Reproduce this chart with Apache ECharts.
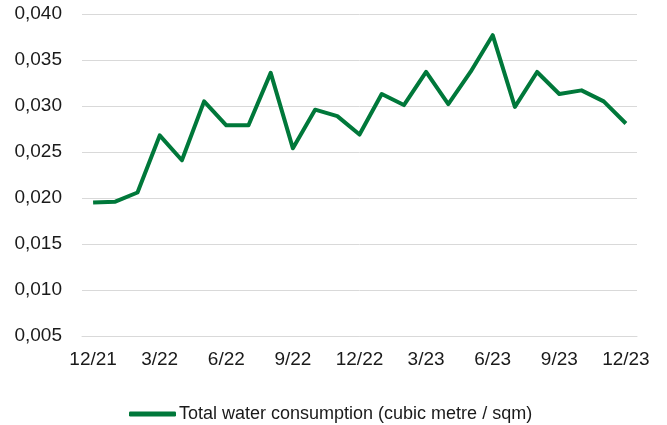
<!DOCTYPE html>
<html>
<head>
<meta charset="utf-8">
<script src="https://cdn.jsdelivr.net/npm/echarts@6/dist/echarts.min.js"></script>
<style>
  html, body { margin: 0; padding: 0; background: #fff; }
  #chart { width: 667px; height: 425px; }
</style>
</head>
<body>
<div id="chart"></div>
<script>
// months, 12/21 .. 12/23
const months = ['12/21', '1/22', '2/22', '3/22', '4/22', '5/22', '6/22', '7/22', '8/22', '9/22', '10/22', '11/22',
  '12/22', '1/23', '2/23', '3/23', '4/23', '5/23', '6/23', '7/23', '8/23', '9/23', '10/23', '11/23', '12/23'];

const waterPerSqm = [0.0195, 0.0196, 0.0206, 0.0268, 0.0241, 0.0305, 0.0279, 0.0279, 0.0336, 0.0254, 0.0296, 0.0289,
  0.0269, 0.0313, 0.0301, 0.0337, 0.0302, 0.0337, 0.0377, 0.0299, 0.0337, 0.0313, 0.0317, 0.0305, 0.0281];

const seriesName = 'Total water consumption (cubic metre / sqm)';

const chart = echarts.init(document.getElementById('chart'));

const font = 'Liberation Sans, Arial, sans-serif';

chart.setOption({
  animation: false,
  grid: { left: 82, right: 30, top: 14, bottom: 89 },
  legend: {
    top: 400,
    left: 124,
    icon: 'roundRect',
    itemWidth: 47,
    itemHeight: 5,
    textStyle: { fontFamily: font, fontSize: 18, color: '#1a1a1a', padding: [0, 0, 0, -2] },
    data: [seriesName]
  },
  xAxis: {
    type: 'category',
    data: months,
    boundaryGap: true,
    axisLine: { lineStyle: { color: '#d9d9d9', width: 1 } },
    axisTick: { show: false },
    axisLabel: {
      interval: 2,
      margin: 14,
      fontFamily: font,
      fontSize: 19,
      color: '#1a1a1a'
    }
  },
  yAxis: {
    type: 'value',
    min: 0.005,
    max: 0.040,
    interval: 0.005,
    axisLine: { show: false },
    axisTick: { show: false },
    splitLine: { lineStyle: { color: '#d9d9d9', width: 1 } },
    axisLabel: {
      margin: 20,
      fontFamily: font,
      fontSize: 19,
      color: '#1a1a1a',
      formatter: (v) => v.toFixed(3).replace('.', ',')
    }
  },
  series: [{
    name: seriesName,
    type: 'line',
    data: waterPerSqm,
    symbol: 'none',
    lineStyle: { color: '#00783a', width: 4, join: 'round' },
    itemStyle: { color: '#00783a' }
  }]
});
</script>
</body>
</html>
